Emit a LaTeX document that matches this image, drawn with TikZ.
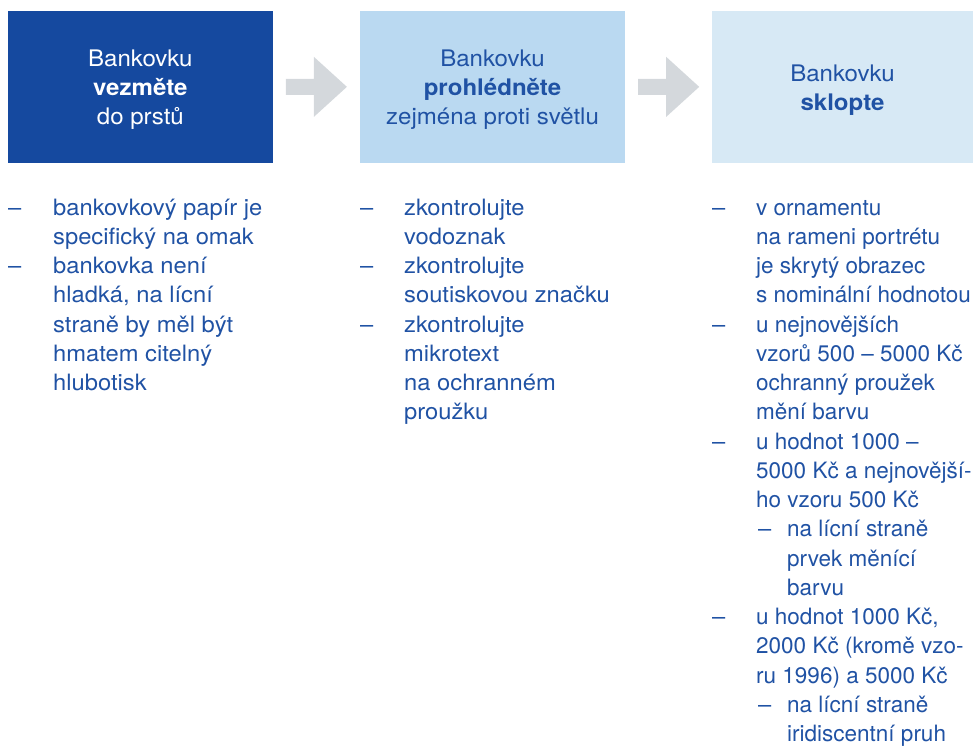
\documentclass[tikz,border=0pt]{standalone}
\usepackage{fontspec}
\setmainfont{TeX Gyre Heros}[FakeStretch=1.055]
\newfontfamily\colthree{TeX Gyre Heros}
\usetikzlibrary{calc}
\definecolor{boxdark}{RGB}{21,73,159}
\definecolor{boxmid}{RGB}{186,217,241}
\definecolor{boxlight}{RGB}{215,233,245}
\definecolor{arrowgrey}{RGB}{212,216,220}
\definecolor{txtblue}{RGB}{32,82,164}
\newcommand{\stk}[1]{\begin{tabular}[t]{@{}l@{}}#1\end{tabular}}
\newcommand{\stc}[1]{\begin{tabular}[t]{@{}c@{}}#1\end{tabular}}
\begin{document}
\begin{tikzpicture}[x=1pt,y=-1pt,
  box/.style={rectangle, inner sep=0pt, minimum height=151.7pt},
  hdr/.style={inner sep=0pt, anchor=base, font=\fontsize{22.8}{29}\selectfont},
  dsh/.style={inner sep=0pt, anchor=base west, text=txtblue, font=\fontsize{22.5}{29.25}\selectfont},
  itm/.style={inner sep=0pt, anchor=base west, text=txtblue, font=\fontsize{22.5}{29.25}\selectfont},
  itmc/.style={itm, font=\colthree\fontsize{22.5}{29.25}\selectfont},
  blockarrow/.style={fill=arrowgrey}
]
\useasboundingbox (0,0) rectangle (973,745);

% header boxes
\node[box, fill=boxdark, minimum width=264.7pt] (b1) at (140.35,86.85) {};
\node[box, fill=boxmid, minimum width=265pt] (b2) at (492.5,86.85) {};
\node[box, fill=boxlight, minimum width=261pt] (b3) at (842.5,86.85) {};

% header texts
\node[hdr, text=white] (h1) at ($(b1.north)+(0,55.5)$) {\stc{Bankovku\\\textbf{vezměte}\\do prstů}};
\node[hdr, text=txtblue] (h2) at ($(b2.north)+(0,55.5)$) {\stc{Bankovku\\\textbf{prohlédněte}\\zejména proti světlu}};
\node[hdr, text=txtblue] (h3) at ($(b3.north)+(0,70.5)$) {\stc{Bankovku\\\textbf{sklopte}}};

% block arrows between boxes
\fill[blockarrow] ($(b1.east)+(13,-8)$) -- ++(28,0) -- ++(0,-22) -- ++(33,30) -- ++(-33,30) -- ++(0,-22) -- ++(-28,0) -- cycle;
\fill[blockarrow] ($(b2.east)+(13,-8)$) -- ++(28,0) -- ++(0,-22) -- ++(33,30) -- ++(-33,30) -- ++(0,-22) -- ++(-28,0) -- cycle;

% column 1
\node[dsh] (d11) at (8,215) {–};
\node[itm] (t11) at (53,215) {\stk{bankovkový papír je\\specifický na omak}};
\node[dsh] (d12) at (8,273.5) {–};
\node[itm] (t12) at (53,273.5) {\stk{bankovka není\\hladká, na lícní\\straně by měl být\\hmatem citelný\\hlubotisk}};

% column 2
\node[dsh] (d21) at (360,215) {–};
\node[itm] (t21) at (404,215) {\stk{zkontrolujte\\vodoznak}};
\node[dsh] (d22) at (360,273.5) {–};
\node[itm] (t22) at (404,273.5) {\stk{zkontrolujte\\soutiskovou značku}};
\node[dsh] (d23) at (360,332) {–};
\node[itm] (t23) at (404,332) {\stk{zkontrolujte\\mikrotext\\na ochranném\\proužku}};

% column 3
\node[dsh] (d31) at (712,215) {–};
\node[itmc] (t31) at (756,215) {\stk{v ornamentu\\na rameni portrétu\\je skrytý obrazec\\s nominální hodnotou}};
\node[dsh] (d32) at (712,332) {–};
\node[itmc] (t32) at (756,332) {\stk{u nejnovějších\\vzorů 500 – 5000 Kč\\ochranný proužek\\mění barvu}};
\node[dsh] (d33) at (712,449) {–};
\node[itmc] (t33) at (756,449) {\stk{u hodnot 1000 –\\5000 Kč a nejnovější-\\ho vzoru 500 Kč}};
\node[dsh] (d34) at (758,536.75) {–};
\node[itmc] (t34) at (787,536.75) {\stk{na lícní straně\\prvek měnící\\barvu}};
\node[dsh] (d35) at (712,624.5) {–};
\node[itmc] (t35) at (756,624.5) {\stk{u hodnot 1000 Kč,\\2000 Kč (kromě vzo-\\ru 1996) a 5000 Kč}};
\node[dsh] (d36) at (758,712.25) {–};
\node[itmc] (t36) at (787,712.25) {\stk{na lícní straně\\iridiscentní pruh}};
\end{tikzpicture}
\end{document}
